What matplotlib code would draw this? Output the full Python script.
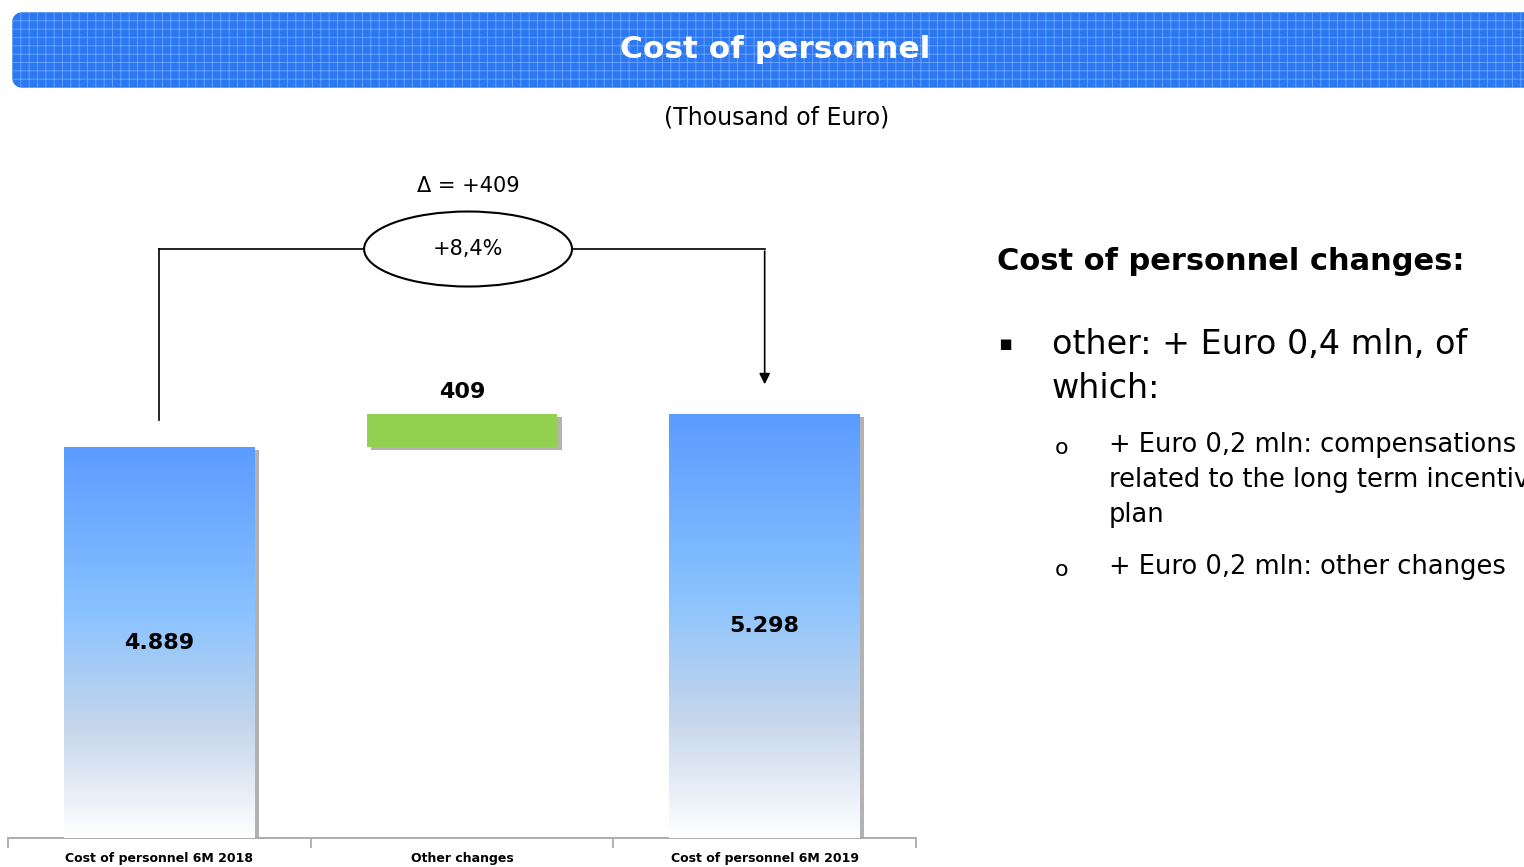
import numpy as np
import matplotlib
matplotlib.use("Agg")
import matplotlib.pyplot as plt
from matplotlib.patches import Ellipse, FancyBboxPatch
from matplotlib.colors import LinearSegmentedColormap
import matplotlib.patheffects as pe

#? Data (thousand of Euro)
categories = ["Cost of personnel 6M 2018", "Other changes", "Cost of personnel 6M 2019"]
start_value = 4889
other_change = 409
end_value = 5298
value_labels = ["4.889", "409", "5.298"]
delta_label = "\u0394 = +409"
pct_label = "+8,4%"

title = "Cost of personnel"
subtitle = "(Thousand of Euro)"
side_title = "Cost of personnel changes:"
bullet_lines = ["other: + Euro 0,4 mln, of", "which:"]
sub_bullets = [["+ Euro 0,2 mln: compensations", "related to the long term incentive", "plan"],
               ["+ Euro 0,2 mln: other changes"]]

fig = plt.figure(figsize=(15.24, 8.67), dpi=100)

#? overlay axes in pixel coords for banner + side text
bg = fig.add_axes([0, 0, 1, 1])
bg.set_xlim(0, 1524)
bg.set_ylim(867, 0)
bg.axis("off")

plt.rcParams["hatch.linewidth"] = 0.6
banner = FancyBboxPatch((12, 12), 1600, 76, boxstyle="round,pad=0,rounding_size=12",
                        facecolor="#2B78F2", edgecolor="#6FA6FA", linewidth=0, hatch="++")
bg.add_patch(banner)
bg.text(775, 50, title, color="white", fontsize=22.5, fontweight="bold", ha="center", va="center")
bg.text(777, 118, subtitle, fontsize=17, ha="center", va="center")

bg.text(997, 262, side_title, fontsize=22, fontweight="bold", ha="left", va="center")
bg.text(1005, 344, "\u25aa", fontsize=15, ha="center", va="center")
for i, line in enumerate(bullet_lines):
    bg.text(1052, 344 + i * 45, line, fontsize=24, ha="left", va="center")
y = 448
for sb in sub_bullets:
    bg.text(1062, y, "o", fontsize=16, ha="center", va="center")
    for j, line in enumerate(sb):
        bg.text(1109, y - 3 + j * 35, line, fontsize=18.5, ha="left", va="center")
    y += 122

#? main chart axes
ax = fig.add_axes([8 / 1524, 29 / 867, 908 / 1524, 678 / 867])
ax.set_xlim(-0.5, 2.5)
ax.set_ylim(0, 8478)

x = np.arange(len(categories))
bottoms = [0, start_value, 0]
heights = [start_value, other_change, end_value]
colors = ["white", "#92D050", "white"]
shadow = [pe.SimplePatchShadow(offset=(3, -2), shadow_rgbFace="#7F7F7F", alpha=0.6), pe.Normal()]
bars = ax.bar(x, heights, bottom=bottoms, width=0.63, color=colors, linewidth=0, zorder=2)
for b in bars:
    b.set_path_effects(shadow)

#? gradient on the blue bars
grad_cmap = LinearSegmentedColormap.from_list(
    "g", [(0, "#FFFFFF"), (0.28, "#C6D6EB"), (0.58, "#88C2FF"), (1.0, "#5B9BFF")])
grad = np.linspace(0, 1, 256).reshape(-1, 1)
for i in [0, 2]:
    b = bars[i]
    im = ax.imshow(grad, cmap=grad_cmap, origin="lower", aspect="auto", zorder=3,
                   extent=[b.get_x(), b.get_x() + b.get_width(), b.get_y(), b.get_y() + b.get_height()])
    im.set_clip_path(b)
ax.set_xlim(-0.5, 2.5)
ax.set_ylim(0, 8478)

ax.text(0, start_value / 2, value_labels[0], ha="center", va="center", fontsize=16, fontweight="bold", zorder=5)
ax.text(2, end_value / 2, value_labels[2], ha="center", va="center", fontsize=16, fontweight="bold", zorder=5)
ax.text(1, end_value + 280, value_labels[1], ha="center", va="center", fontsize=16, fontweight="bold", zorder=5)

#? bracket with ellipse
bracket_y = 7365
ax.plot([0, 0], [start_value + 340, bracket_y], color="black", lw=1.2, zorder=4)
ax.plot([0, 2], [bracket_y, bracket_y], color="black", lw=1.2, zorder=4)
ax.annotate("", xy=(2, end_value + 340), xytext=(2, bracket_y + 8),
            arrowprops=dict(arrowstyle="-|>", color="black", lw=1.2, mutation_scale=16), zorder=4)
ell = Ellipse((1.02, bracket_y), width=0.687, height=938, facecolor="white", edgecolor="black", lw=1.5, zorder=5)
ax.add_patch(ell)
ax.text(1.02, bracket_y, pct_label, ha="center", va="center", fontsize=15, zorder=6)
ax.text(1.02, 8153, delta_label, ha="center", va="center", fontsize=15, zorder=6)

#? axis styling
for s in ["top", "left", "right"]:
    ax.spines[s].set_visible(False)
ax.spines["bottom"].set_color("#A6A6A6")
ax.spines["bottom"].set_linewidth(1.3)
ax.set_yticks([])
ax.set_xticks(x)
ax.set_xticklabels(categories, fontsize=9, fontweight="bold")
ax.tick_params(axis="x", which="major", length=0, pad=10)
ax.set_xticks([-0.5, 0.5, 1.5, 2.5], minor=True)
ax.tick_params(axis="x", which="minor", length=7, color="#A6A6A6", width=1.2)

fig.savefig("out.png", dpi=100)
